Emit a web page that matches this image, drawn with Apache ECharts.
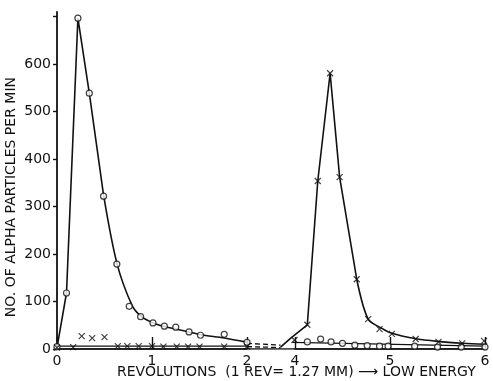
<!DOCTYPE html>
<html>
<head>
<meta charset="utf-8">
<script src="https://cdn.jsdelivr.net/npm/echarts@6.0.0/dist/echarts.min.js"></script>
<style>
  html, body { margin: 0; padding: 0; background: #fff; }
  #chart { width: 493px; height: 381px; }
</style>
</head>
<body>
<div id="chart"></div>
<script>
// measured points, "o" run
const circRevA = [0, 0.1, 0.22, 0.34, 0.49, 0.63, 0.76, 0.88, 1.01, 1.13, 1.25, 1.39, 1.51, 1.76, 2.0];
const circCntA = [5, 118, 697, 539, 322, 179, 90, 68, 55, 48, 46, 36, 29, 31, 14];
const circRevB = [4.13, 4.27, 4.38, 4.5, 4.63, 4.76, 4.89, 4.98, 5.26, 5.5, 5.75, 6.0];
const circCntB = [15, 21, 15, 12, 8, 7, 6, 6, 6, 4, 4, 4];

// measured points, "x" run
const crossRevA = [0, 0.17, 0.26, 0.37, 0.5, 0.64, 0.74, 0.86, 1.0, 1.12, 1.26, 1.38, 1.5, 1.76, 2.0];
const crossCntA = [3, 4, 27, 23, 25, 6, 6, 6, 6, 5, 5, 5, 5, 5, 5];
const crossRevB = [3.98, 4.13, 4.24, 4.37, 4.47, 4.65, 4.77, 4.89, 5.02, 5.27, 5.51, 5.76, 5.99];
const crossCntB = [19, 51, 354, 581, 362, 147, 63, 42, 32, 21, 15, 12, 17];

// drawn curves
const curve1PeakRev = [0, 0.1, 0.22, 0.34, 0.49];
const curve1PeakCnt = [3, 118, 697, 539, 324];
const curve1TailRev = [0.49, 0.63, 0.79, 0.89, 1.01, 1.14, 1.25, 1.39, 1.51, 1.76, 2.0];
const curve1TailCnt = [324, 181, 92, 68, 55, 47, 42, 36, 30, 23, 14];
const curve2PeakRev = [3.4, 3.8, 4.13, 4.24, 4.37, 4.47, 4.65];
const curve2PeakCnt = [4, 22, 51, 354, 581, 362, 147];
const curve2TailRev = [4.65, 4.77, 4.91, 5.02, 5.26, 5.5, 5.77, 6.0];
const curve2TailCnt = [147, 63, 44, 33, 22, 16, 12, 10];
const lowCrossRev = [0, 2];
const lowCrossCnt = [6, 6];
const lowCircRev = [3.9, 6];
const lowCircCnt = [14, 6];
const gapUpperRev = [2, 3.4];
const gapUpperCnt = [12, 8];
const gapLowerRev = [2, 3.4];
const gapLowerCnt = [5, 3];
const baseRev = [0, 6];
const baseCnt = [0, 0];

const yTickValues = [0, 100, 200, 300, 400, 500, 600, 700];
const yLabelValues = [0, 100, 200, 300, 400, 500, 600];

const pairs = (xs, ys) => xs.map((x, i) => [x, ys[i]]);
const FONT = 'DejaVu Sans';
const INK = '#111';
const crossPath = 'path://M0,0L10,10M10,0L0,10';

function line(xs, ys, opts) {
  return Object.assign({
    type: 'line',
    data: pairs(xs, ys),
    symbol: 'none',
    silent: true,
    lineStyle: { color: INK, width: 1.6 },
    z: 2
  }, opts || {});
}

const chart = echarts.init(document.getElementById('chart'));
chart.setOption({
  backgroundColor: '#fff',
  animation: false,
  grid: { left: 57, right: 8, top: 12, bottom: 32 },
  xAxis: {
    type: 'value',
    min: 0,
    max: 6,
    interval: 1,
    breaks: [{ start: 2, end: 4, gap: '11.2%' }],
    breakArea: { show: false },
    axisLine: { lineStyle: { color: INK, width: 1.6 } },
    axisTick: { inside: true, length: 12, lineStyle: { color: INK, width: 1.4 } },
    axisLabel: { color: INK, fontFamily: FONT, fontSize: 14, margin: 5 },
    splitLine: { show: false }
  },
  yAxis: {
    type: 'value',
    min: 0,
    max: 710,
    interval: 100,
    axisLine: { show: true, lineStyle: { color: INK, width: 1.8 } },
    axisTick: { show: true, length: 4, customValues: yTickValues, lineStyle: { color: INK, width: 1.4 } },
    axisLabel: {
      color: INK, fontFamily: FONT, fontSize: 14, margin: 6,
      customValues: yLabelValues
    },
    splitLine: { show: false }
  },
  graphic: [
    {
      type: 'text', left: 4, top: 77, rotation: Math.PI / 2,
      style: {
        text: 'NO. OF ALPHA PARTICLES PER MIN',
        font: '14px "DejaVu Sans"', fill: INK
      }
    },
    {
      type: 'text', left: 117, top: 365,
      style: {
        text: 'REVOLUTIONS  (1 REV= 1.27 MM) \u27F6 LOW ENERGY',
        font: '14px "DejaVu Sans"', fill: INK
      }
    }
  ],
  series: [
    line(baseRev, baseCnt, { lineStyle: { color: INK, width: 1.6 } }),
    line(curve1PeakRev, curve1PeakCnt),
    line(curve1TailRev, curve1TailCnt, { smooth: 0.3 }),
    line(curve2PeakRev, curve2PeakCnt),
    line(curve2TailRev, curve2TailCnt, { smooth: 0.3 }),
    line(lowCrossRev, lowCrossCnt, { lineStyle: { color: INK, width: 1.2 } }),
    line(lowCircRev, lowCircCnt, { lineStyle: { color: INK, width: 1.2 } }),
    line(gapUpperRev, gapUpperCnt, { lineStyle: { color: INK, width: 1.3, type: [5, 3] } }),
    line(gapLowerRev, gapLowerCnt, { lineStyle: { color: INK, width: 1.3, type: [5, 3] } }),
    {
      type: 'scatter', silent: true, z: 3,
      data: pairs(circRevA, circCntA).concat(pairs(circRevB, circCntB)),
      symbol: 'circle', symbolSize: 6,
      itemStyle: { color: '#fff', borderColor: INK, borderWidth: 1.2 }
    },
    {
      type: 'scatter', silent: true, z: 3,
      data: pairs(crossRevA, crossCntA).concat(pairs(crossRevB, crossCntB)),
      symbol: crossPath, symbolSize: 6,
      itemStyle: { color: 'none', borderColor: INK, borderWidth: 1.2 }
    }
  ]
});
</script>
</body>
</html>
